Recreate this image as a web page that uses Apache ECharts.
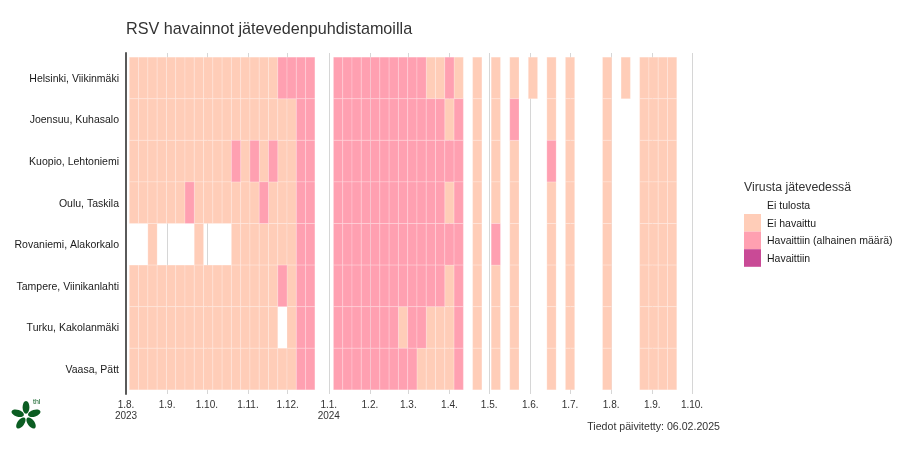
<!DOCTYPE html>
<html><head><meta charset="utf-8">
<style>html,body{margin:0;padding:0;background:#fff}#c{width:920px;height:450px}</style>
<script src="https://cdn.jsdelivr.net/npm/echarts@6/dist/echarts.min.js"></script>
</head><body><div id="c"></div>
<script>
const plants = ["Helsinki, Viikinmäki","Joensuu, Kuhasalo","Kuopio, Lehtoniemi","Oulu, Taskila","Rovaniemi, Alakorkalo","Tampere, Viinikanlahti","Turku, Kakolanmäki","Vaasa, Pätt"];
const statusNames = ["Ei tulosta","Ei havaittu","Havaittiin (alhainen määrä)","Havaittiin"];
const statusColors = ["#ffffff","#ffcdb8","#ffa0b1","#c94a96"];
// day offsets from 1.8.2023 of the month ticks, and their labels
const tickDays = [0,31,61,92,122,153,184,213,244,274,305,335,366,397,427];
const tickLabels = ["1.8.\n2023","1.9.","1.10.","1.11.","1.12.","1.1.\n2024","1.2.","1.3.","1.4.","1.5.","1.6.","1.7.","1.8.","1.9.","1.10."];
// weekly sampling: first Monday (centre of first cell) as day offset, cell length in days
const firstWeekDay = 6, weekDays = 7;
// one value per week: 0 no result, 1 not detected, 2 detected (low)
const helsinki = [1,1,1,1,1,1,1,1,1,1,1,1,1,1,1,1,2,2,2,2,0,0,2,2,2,2,2,2,2,2,2,2,1,1,2,1,0,1,0,1,0,1,0,1,0,1,0,1,0,0,0,1,0,1,0,1,1,1,1];
const joensuu  = [1,1,1,1,1,1,1,1,1,1,1,1,1,1,1,1,1,1,2,2,0,0,2,2,2,2,2,2,2,2,2,2,2,2,1,2,0,1,0,1,0,2,0,0,0,1,0,1,0,0,0,1,0,0,0,1,1,1,1];
const kuopio   = [1,1,1,1,1,1,1,1,1,1,1,2,1,2,1,2,1,1,2,2,0,0,2,2,2,2,2,2,2,2,2,2,2,2,2,2,0,1,0,1,0,1,0,0,0,2,0,1,0,0,0,1,0,0,0,1,1,1,1];
const oulu     = [1,1,1,1,1,1,2,1,1,1,1,1,1,1,2,1,1,1,2,2,0,0,2,2,2,2,2,2,2,2,2,2,2,2,1,2,0,1,0,1,0,1,0,0,0,1,0,1,0,0,0,1,0,0,0,1,1,1,1];
const rovaniemi= [0,0,1,0,0,0,0,1,0,0,0,1,1,1,1,1,1,1,2,2,0,0,2,2,2,2,2,2,2,2,2,2,2,2,2,2,0,1,0,2,0,1,0,0,0,1,0,1,0,0,0,1,0,0,0,1,1,1,1];
const tampere  = [1,1,1,1,1,1,1,1,1,1,1,1,1,1,1,1,2,1,2,2,0,0,2,2,2,2,2,2,2,2,2,2,2,2,1,2,0,1,0,1,0,1,0,0,0,1,0,1,0,0,0,1,0,0,0,1,1,1,1];
const turku    = [1,1,1,1,1,1,1,1,1,1,1,1,1,1,1,1,0,1,2,2,0,0,2,2,2,2,2,2,2,1,2,2,1,1,1,2,0,1,0,1,0,1,0,0,0,1,0,1,0,0,0,1,0,0,0,1,1,1,1];
const vaasa    = [1,1,1,1,1,1,1,1,1,1,1,1,1,1,1,1,1,1,2,2,0,0,2,2,2,2,2,2,2,2,2,1,1,1,1,2,0,1,0,1,0,1,0,0,0,1,0,1,0,0,0,1,0,0,0,1,1,1,1];
const rows = [helsinki,joensuu,kuopio,oulu,rovaniemi,tampere,turku,vaasa];

const chart = echarts.init(document.getElementById('c'),null,{renderer:'canvas'});
const FONT = '"Liberation Sans", Arial, sans-serif';
function cells(status){
  const out=[];
  rows.forEach((r,y)=>r.forEach((v,k)=>{ if(v===status && status!==0) out.push([firstWeekDay+k*weekDays,y+1]); }));
  return out;
}
function renderCell(color){
  return function(params,api){
    const c=api.coord([api.value(0)-weekDays/2,api.value(1)-0.5]);
    const s=api.size([weekDays,1]);
    return {type:'rect',shape:{x:c[0],y:c[1],width:s[0],height:s[1]},
      style:{fill:color,stroke:'rgba(255,255,255,0.35)',lineWidth:0.6}};
  };
}
function petal(i){
  return {type:'ellipse',originX:26,originY:416,rotation:-i*2*Math.PI/5,
    shape:{cx:26,cy:407.3,rx:3.4,ry:6.4},
    style:{fill:'#0b5d22'},silent:true};
}
const labelRich = {a:{fontFamily:FONT,fontSize:10.5,color:'#1a1a1a',padding:[2,0,0,0]}};
chart.setOption({
  animation:false,
  backgroundColor:'#fff',
  textStyle:{fontFamily:FONT},
  title:[
    {text:'RSV havainnot jätevedenpuhdistamoilla',left:126,top:22,padding:0,
     textStyle:{fontFamily:FONT,fontSize:16.2,fontWeight:'normal',color:'#333333'}},
    {text:'Virusta jätevedessä',left:744,top:182,padding:0,
     textStyle:{fontFamily:FONT,fontSize:12.3,fontWeight:'normal',color:'#333333'}}
  ],
  grid:{left:126,right:228,top:53,bottom:56,containLabel:false},
  xAxis:{type:'value',min:0,max:427,
    axisLine:{show:false},
    axisTick:{show:false,customValues:tickDays},
    splitLine:{show:true,lineStyle:{color:'#d6d6d6',width:1}},
    axisLabel:{customValues:tickDays,margin:6,fontSize:10,lineHeight:11,color:'#333333',fontFamily:FONT,hideOverlap:false,
      verticalAlign:'top',formatter:v=>tickLabels[tickDays.indexOf(v)]}},
  yAxis:{type:'value',inverse:true,min:0.4,max:8.6,
    axisLine:{show:true,onZero:false,lineStyle:{color:'#5a5a5a',width:2}},
    axisTick:{show:false,customValues:[1,2,3,4,5,6,7,8]},
    splitLine:{show:false},
    axisLabel:{customValues:[1,2,3,4,5,6,7,8],margin:7,fontSize:10.5,color:'#1a1a1a',fontFamily:FONT,rich:labelRich,
      formatter:v=>'{a|'+plants[v-1]+'}'}},
  legend:{orient:'vertical',left:744,top:196.4,padding:0,itemGap:0,itemWidth:17,itemHeight:17.6,selectedMode:false,
    icon:'rect',
    textStyle:{fontFamily:FONT,fontSize:10.5,color:'#1a1a1a',padding:[0,0,0,1],rich:labelRich},
    formatter:n=>'{a|'+n+'}',
    data:statusNames},
  series:statusNames.map((name,i)=>({
    name,type:'custom',coordinateSystem:'cartesian2d',silent:true,
    itemStyle:{color:statusColors[i]},
    encode:{x:0,y:1},
    renderItem:renderCell(statusColors[i]),
    data:cells(i)
  })),
  graphic:[
    {type:'text',right:200,top:422,silent:true,style:{text:'Tiedot päivitetty: 06.02.2025',font:'10.6px '+FONT,fill:'#333333'}},
    petal(0),petal(1),petal(2),petal(3),petal(4),
    {type:'text',x:33,y:399,silent:true,style:{text:'thl',font:'7px '+FONT,fill:'#0b5d22'}}
  ]
});
</script></body></html>
